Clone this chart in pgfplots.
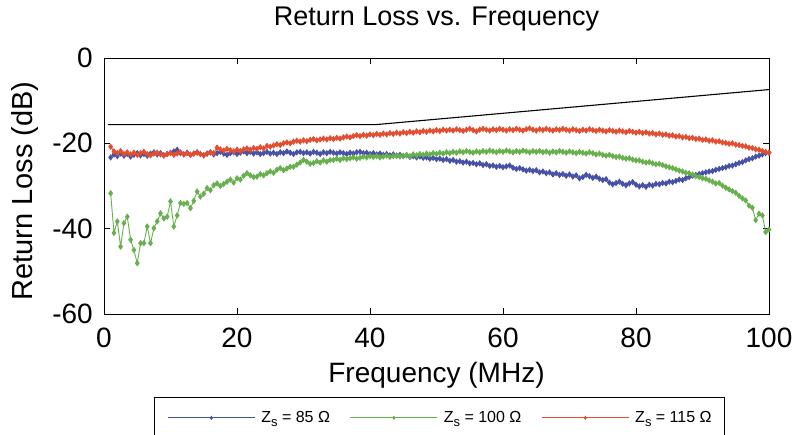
\documentclass[border=0pt]{standalone}
\usepackage{pgfplots}
\usepackage{pgfplotstable}
\pgfplotsset{compat=1.18}
\usepackage{fontspec}
\setmainfont{Liberation Sans}
\definecolor{cblue}{RGB}{72,82,165}
\definecolor{cgreen}{RGB}{104,176,78}
\definecolor{cred}{RGB}{226,78,48}
\pgfplotstableread{
x b g r
1 -23.3 -31.7 -20.8
1.5 -22.6 -41.0 -21.9
2 -23.0 -38.3 -22.3
2.5 -22.4 -44.2 -21.8
3 -22.9 -38.7 -22.5
3.5 -22.5 -37.2 -22.1
4 -23.1 -42.6 -22.6
4.5 -22.7 -45.0 -22.2
5 -22.3 -48.1 -22.7
5.5 -22.8 -43.4 -22.3
6 -22.5 -43.4 -22.0
6.5 -22.9 -39.5 -22.5
7 -22.4 -43.4 -22.8
7.5 -22.1 -39.9 -22.4
8 -22.6 -38.3 -22.2
8.5 -22.3 -36.4 -22.6
9 -22.8 -37.6 -22.9
9.5 -22.5 -37.2 -22.5
10 -22.2 -33.6 -22.3
10.5 -21.9 -39.5 -22.7
11 -21.5 -36.9 -22.4
11.5 -22.3 -34.0 -22.1
12 -22.6 -34.2 -22.6
12.5 -22.2 -34.0 -22.3
13 -22.7 -35.2 -22.7
13.5 -22.4 -33.5 -22.4
14 -22.1 -31.3 -22.2
14.5 -22.5 -32.5 -22.5
15 -22.8 -31.8 -22.8
15.5 -22.4 -30.5 -22.4
16 -22.1 -31.0 -22.1
16.5 -22.6 -29.8 -22.3
17 -22.3 -29.4 -21.0
17.5 -22.0 -30.0 -21.4
18 -22.4 -29.5 -21.7
18.5 -22.7 -29.0 -21.3
19 -22.3 -28.5 -21.6
19.5 -22.1 -29.2 -21.9
20 -22.5 -28.2 -21.5
20.5 -22.2 -28.5 -21.8
21 -21.9 -27.6 -21.4
21.5 -22.3 -27.0 -21.2
22 -22.0 -27.5 -21.5
22.5 -22.4 -27.9 -21.1
23 -22.1 -27.8 -21.3
23.5 -22.5 -27.2 -20.9
24 -22.3 -27.5 -21.2
24.5 -22.0 -27.0 -20.6
25 -22.4 -26.6 -20.8
25.5 -22.2 -26.9 -20.5
26 -22.5 -26.2 -20.2
26.5 -22.1 -25.8 -20.4
27 -22.3 -26.3 -20.0
27.5 -21.9 -25.9 -19.8
28 -22.2 -25.5 -20.0
28.5 -22.5 -25.5 -19.6
29 -22.1 -25.0 -19.4
29.5 -22.0 -24.5 -19.6
30 -22.3 -23.9 -19.3
30.5 -22.1 -24.3 -19.5
31 -22.4 -24.8 -19.2
31.5 -22.0 -24.6 -19.0
32 -22.2 -24.2 -19.3
32.5 -22.5 -24.5 -19.1
33 -22.1 -24.0 -18.9
33.5 -22.3 -24.3 -19.1
34 -22.0 -23.9 -18.8
34.5 -22.2 -23.9 -19.0
35 -22.4 -23.6 -18.7
35.5 -22.1 -23.9 -18.9
36 -22.3 -23.5 -18.6
36.5 -22.5 -23.7 -18.4
37 -22.2 -23.5 -18.6
37.5 -22.4 -23.3 -18.3
38 -22.1 -23.6 -18.1
38.5 -22.0 -23.4 -18.3
39 -22.3 -23.1 -18.0
39.5 -22.2 -23.3 -18.2
40 -22.5 -23.0 -17.9
40.5 -22.3 -23.2 -18.1
41 -22.6 -23.0 -17.8
41.5 -22.4 -23.3 -18.0
42 -22.7 -23.1 -17.7
42.5 -22.5 -22.9 -17.9
43 -22.8 -23.2 -17.6
43.5 -22.6 -23.0 -17.8
44 -22.9 -22.8 -17.5
44.5 -22.7 -23.1 -17.7
45 -23.0 -22.9 -17.4
45.5 -22.8 -22.7 -17.6
46 -23.2 -23.0 -17.3
46.5 -23.0 -22.6 -17.5
47 -23.3 -22.8 -17.2
47.5 -23.1 -22.5 -17.4
48 -23.4 -22.7 -17.1
48.5 -23.3 -22.4 -17.3
49 -23.6 -22.6 -17.0
49.5 -23.4 -22.3 -17.2
50 -23.7 -22.5 -16.9
50.5 -23.6 -22.2 -17.1
51 -23.9 -22.4 -16.8
51.5 -23.7 -22.1 -17.0
52 -24.1 -22.3 -16.8
52.5 -23.9 -22.0 -17.0
53 -24.3 -22.2 -16.7
53.5 -24.2 -21.9 -16.9
54 -24.5 -22.1 -17.1
54.5 -24.3 -21.8 -16.8
55 -24.7 -22.0 -16.6
55.5 -24.6 -22.2 -16.9
56 -24.9 -21.9 -17.2
56.5 -24.7 -22.1 -16.8
57 -25.1 -21.8 -16.6
57.5 -24.9 -22.0 -16.8
58 -25.3 -21.7 -17.0
58.5 -25.2 -21.9 -16.7
59 -25.5 -22.1 -16.9
59.5 -25.3 -21.8 -16.6
60 -25.6 -22.0 -16.8
60.5 -25.4 -21.7 -17.0
61 -25.2 -21.9 -16.7
61.5 -25.7 -22.1 -16.9
62 -26.0 -21.8 -16.6
62.5 -25.8 -22.0 -16.8
63 -26.1 -21.7 -17.0
63.5 -26.4 -21.9 -16.7
64 -26.2 -22.1 -16.5
64.5 -26.5 -21.8 -16.8
65 -26.3 -22.0 -17.0
65.5 -26.8 -21.8 -16.7
66 -26.6 -22.1 -16.9
66.5 -27.0 -21.9 -16.6
67 -26.8 -22.2 -16.8
67.5 -27.3 -21.9 -17.0
68 -27.0 -22.1 -16.7
68.5 -27.4 -21.8 -16.9
69 -27.2 -22.0 -16.6
69.5 -27.6 -22.2 -16.8
70 -27.3 -21.9 -17.0
70.5 -27.8 -22.1 -16.7
71 -27.5 -22.3 -16.9
71.5 -28.2 -22.0 -17.1
72 -27.9 -22.2 -16.8
72.5 -27.4 -22.4 -17.0
73 -27.7 -22.1 -16.7
73.5 -28.1 -22.3 -16.9
74 -27.8 -22.6 -17.1
74.5 -28.3 -22.4 -16.8
75 -28.6 -22.7 -17.0
75.5 -28.4 -22.9 -17.2
76 -29.2 -22.7 -16.9
76.5 -29.6 -23.0 -17.1
77 -29.3 -23.2 -17.3
77.5 -29.0 -23.1 -17.0
78 -29.5 -23.4 -17.2
78.5 -29.8 -23.6 -17.4
79 -29.4 -23.5 -17.1
79.5 -29.1 -23.8 -17.3
80 -29.7 -24.0 -17.5
80.5 -30.1 -24.0 -17.3
81 -29.8 -24.3 -17.6
81.5 -30.2 -24.5 -17.4
82 -29.7 -24.4 -17.7
82.5 -29.9 -24.7 -17.6
83 -29.5 -24.9 -17.9
83.5 -29.6 -24.8 -17.7
84 -29.3 -25.1 -18.0
84.5 -29.4 -25.4 -17.9
85 -29.0 -25.6 -18.2
85.5 -29.1 -25.8 -18.1
86 -28.8 -26.1 -18.4
86.5 -28.5 -26.4 -18.3
87 -28.6 -26.6 -18.6
87.5 -28.2 -26.9 -18.5
88 -27.9 -27.0 -18.8
88.5 -27.6 -27.3 -18.7
89 -27.4 -27.7 -19.0
89.5 -27.2 -27.9 -18.9
90 -27.0 -28.2 -19.2
90.5 -26.8 -28.3 -19.1
91 -26.6 -28.7 -19.4
91.5 -26.5 -29.0 -19.3
92 -26.2 -29.4 -19.6
92.5 -26.0 -29.3 -19.5
93 -25.8 -29.9 -19.8
93.5 -25.6 -30.4 -19.9
94 -25.3 -30.8 -20.1
94.5 -25.2 -31.2 -20.0
95 -24.9 -31.6 -20.3
95.5 -24.6 -32.3 -20.4
96 -24.4 -32.9 -20.6
96.5 -24.0 -33.4 -20.7
97 -23.7 -34.6 -21.0
97.5 -23.5 -35.1 -21.1
98 -23.1 -38.0 -21.4
98.5 -22.9 -36.5 -21.5
99 -22.6 -36.9 -21.8
99.5 -22.3 -40.8 -22.0
100 -22.2 -40.2 -22.2
}\datatab
\newcommand{\Zs}{Z\raisebox{-0.5ex}{\fontsize{13}{13}\selectfont s}}
\begin{document}
\begin{tikzpicture}
\begin{axis}[
  scale only axis, width=665pt, height=256pt,
  xmin=0, xmax=100, ymin=-60, ymax=0,
  xtick={0,20,40,60,80,100}, ytick={-60,-40,-20,0},
  tick align=inside, major tick length=6pt,
  axis line style={line width=0.9pt},
  every tick/.style={black, line width=0.9pt},
  /pgf/number format/assume math mode=true,
  ticklabel style={font=\fontsize{28}{30}\selectfont},
  xticklabel style={anchor=base, yshift=-34pt, inner sep=0pt},
  yticklabel style={anchor=east, xshift=-11pt, inner sep=0pt},
  title={Return Loss vs. Frequency},
  title style={font=\fontsize{27}{30}\selectfont, at={(axis description cs:0.5,1.1016)}, anchor=base},
  xlabel={Frequency (MHz)},
  xlabel style={font=\fontsize{28}{30}\selectfont, at={(axis description cs:0.5,-0.2695)}, anchor=base},
  ylabel={Return Loss (dB)},
  ylabel style={font=\fontsize{29}{30}\selectfont, at={(axis description cs:-0.1068,0.48)}, anchor=base},
  legend columns=3,
  legend cell align=left,
  legend image code/.code={\draw[mark repeat=2,mark phase=2,#1,line width=0.8pt,mark size=1.5pt] plot coordinates {(0pt,0pt) (43.5pt,0pt) (87pt,0pt)};},
  legend style={at={(axis description cs:0.0752,-0.3242)}, anchor=north west,
    draw=black, line width=1pt, inner xsep=13pt, inner ysep=14pt,
    font=\fontsize{16}{18}\selectfont,
    nodes={inner sep=0pt},
    /tikz/every odd column/.append style={column sep=6pt},
    /tikz/every even column/.append style={column sep=20pt}},
]
\addplot[black, line width=1.1pt, forget plot] coordinates {(0.6,-15.6) (41,-15.6) (100,-7.4)};
\addplot[cblue, line width=0.9pt, mark=diamond*, mark size=2.5pt, mark options={solid, fill=cblue, draw=cblue}] table[x=x, y=b] {\datatab};
\addlegendentry{\Zs{} = 85 Ω}
\addplot[cgreen, line width=0.9pt, mark=diamond*, mark size=2.5pt, mark options={solid, fill=cgreen, draw=cgreen}] table[x=x, y=g] {\datatab};
\addlegendentry{\Zs{} = 100 Ω}
\addplot[cred, line width=0.9pt, mark=diamond*, mark size=2.5pt, mark options={solid, fill=cred, draw=cred}] table[x=x, y=r] {\datatab};
\addlegendentry{\Zs{} = 115 Ω}
\end{axis}
\pgfresetboundingbox
\useasboundingbox (-104pt,-121pt) rectangle (695pt,314pt);
\end{tikzpicture}
\end{document}
